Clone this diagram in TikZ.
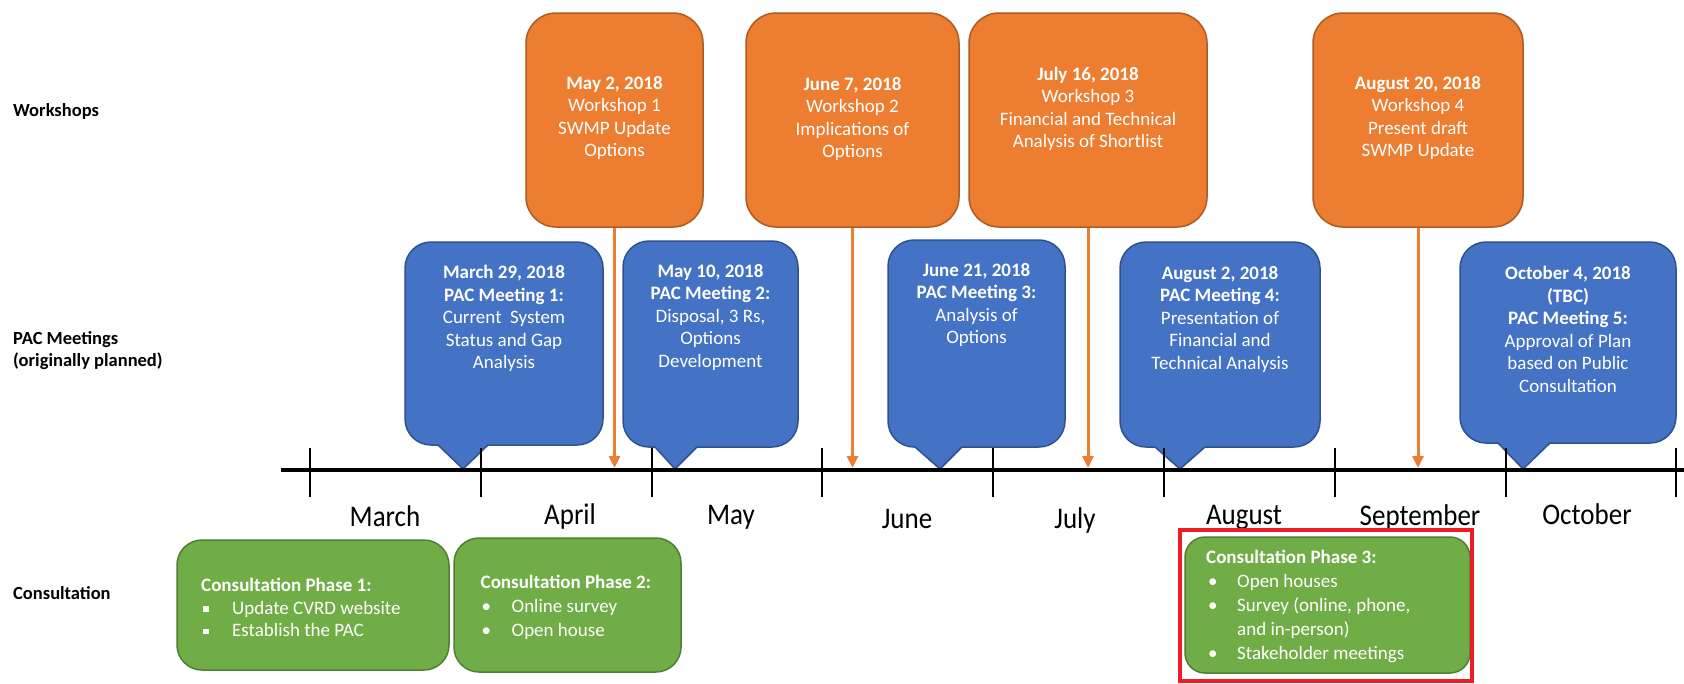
\documentclass[tikz,border=0pt]{standalone}
\usepackage{fontspec}
\setmainfont{Carlito}
\newfontfamily\monthfont[FakeStretch=0.9]{Carlito}
\usetikzlibrary{arrows.meta}
\definecolor{wsfill}{HTML}{ED7D31}
\definecolor{wsline}{HTML}{AE5A21}
\definecolor{pacfill}{HTML}{4472C4}
\definecolor{pacline}{HTML}{2F528F}
\definecolor{cfill}{HTML}{70AD47}
\definecolor{cline}{HTML}{507E32}
\definecolor{hlred}{HTML}{EE1C25}
\newcommand\boxfont{\fontsize{19}{22.5}\selectfont}
\newcommand\sqitem{\hspace*{2pt}\makebox[29pt][l]{\rule[2.5pt]{5.5pt}{5.5pt}}}
\newcommand\rditem{\hspace*{1pt}\makebox[30pt][l]{\textbullet}}
\newcommand\pacshape[7]{%
 \draw[pacbox] ({#1},{#3+26}) .. controls ({#1},{#3+11.65}) and ({#1+11.65},{#3}) .. ({#1+26},{#3})
  -- ({#2-26},{#3}) .. controls ({#2-11.65},{#3}) and ({#2},{#3+11.65}) .. ({#2},{#3+26})
  -- ({#2},{#4-26}) .. controls ({#2},{#4-11.65}) and ({#2-11.65},{#4}) .. ({#2-26},{#4})
  -- ({#6},{#4}) -- ({#7},469) -- ({#5},{#4})
  -- ({#1+26},{#4}) .. controls ({#1+11.65},{#4}) and ({#1},{#4-11.65}) .. ({#1},{#4-26}) -- cycle;}
\begin{document}
\begin{tikzpicture}[x=1pt,y=-1pt,
  wsbox/.style={draw=wsline, fill=wsfill, line width=1.5pt, rounded corners=30pt,
    inner sep=0pt, minimum height=214pt},
  pacbox/.style={draw=pacline, fill=pacfill, line width=1.5pt, line join=round},
  cbox/.style={draw=cline, fill=cfill, line width=1.5pt, rounded corners=25pt, inner sep=0pt},
  boxtext/.style={text=white, font=\boxfont, align=center, inner sep=0pt},
  ctext/.style={text=white, font=\boxfont, align=left, inner sep=0pt, anchor=north west},
  rowlabel/.style={font=\fontsize{18.5}{22}\selectfont\bfseries, inner sep=0pt, align=left},
  month/.style={font=\monthfont\fontsize{30}{32}\selectfont, inner sep=0pt, anchor=base},
  wsarrow/.style={draw=wsfill, line width=3pt, -{Triangle[length=12pt,width=11pt]}},
  tickline/.style={line width=1.3pt},
  timeline/.style={line width=4pt}]
\useasboundingbox (0,0) rectangle (1684,683);

% row labels
\node[rowlabel, anchor=base west] (lw) at (13,116) {Workshops};
\node[rowlabel, anchor=north west] (lp) at (13,331) {PAC Meetings\\(originally planned)};
\node[rowlabel, anchor=base west] (lc) at (13,599) {Consultation};

% workshop boxes
\node[wsbox, minimum width=177pt] (ws1) at (614.5,120) {};
\node[wsbox, minimum width=213pt] (ws2) at (852.5,120) {};
\node[wsbox, minimum width=238pt] (ws3) at (1088,120) {};
\node[wsbox, minimum width=210pt] (ws4) at (1418,120) {};
\node[boxtext] (ws1t) at (614.5,118) {\textbf{May 2, 2018}\\Workshop 1\\SWMP Update\\Options};
\node[boxtext] (ws2t) at (852.5,119) {\textbf{June 7, 2018}\\Workshop 2\\Implications of\\Options};
\node[boxtext] (ws3t) at (1088,109) {\textbf{July 16, 2018}\\Workshop 3\\Financial and Technical\\Analysis of Shortlist};
\node[boxtext] (ws4t) at (1418,118) {\textbf{August 20, 2018}\\Workshop 4\\Present draft\\SWMP Update};

% PAC callouts
\pacshape{405}{603}{242}{445}{438}{488}{463}
\pacshape{623}{798}{241}{447}{655}{697}{675}
\pacshape{888}{1065}{240}{447}{915}{962}{940}
\pacshape{1120}{1320}{242}{447}{1155}{1205}{1180}
\pacshape{1460}{1676}{242}{443}{1498}{1550}{1523}
\node[boxtext, anchor=north] (p1) at (504,265) {\textbf{March 29, 2018}\\\textbf{PAC Meeting 1:}\\Current\ \ System\\Status and Gap\\Analysis};
\node[boxtext, anchor=north] (p2) at (710.5,264) {\textbf{May 10, 2018}\\\textbf{PAC Meeting 2:}\\Disposal, 3 Rs,\\Options\\Development};
\node[boxtext, anchor=north] (p3) at (976.5,263) {\textbf{June 21, 2018}\\\textbf{PAC Meeting 3:}\\Analysis of\\Options};
\node[boxtext, anchor=north] (p4) at (1220,266) {\textbf{August 2, 2018}\\\textbf{PAC Meeting 4:}\\Presentation of\\Financial and\\Technical Analysis};
\node[boxtext, anchor=north] (p5) at (1568,266) {\textbf{October 4, 2018}\\\textbf{(TBC)}\\\textbf{PAC Meeting 5:}\\Approval of Plan\\based on Public\\Consultation};

% timeline
\coordinate (tl0) at (281,470);
\coordinate (tl1) at (1684,470);
\draw[timeline] (tl0) -- (tl1);
\foreach \x in {310,481,652,822,993,1164,1335,1506,1676}
  \draw[tickline] (\x,448) -- (\x,497);

% workshop arrows
\coordinate (a1) at (614.5,468);
\coordinate (a2) at (852.5,468);
\coordinate (a3) at (1088,468);
\coordinate (a4) at (1418,468);
\draw[wsarrow] (ws1.south) -- (a1);
\draw[wsarrow] (ws2.south) -- (a2);
\draw[wsarrow] (ws3.south) -- (a3);
\draw[wsarrow] (ws4.south) -- (a4);

% months
\node[month] (m3) at (385,526) {March};
\node[month] (m4) at (570,524) {April};
\node[month] (m5) at (731,524) {May};
\node[month] (m6) at (907,528) {June};
\node[month] (m7) at (1075,528) {July};
\node[month] (m8) at (1244,524) {August};
\node[month] (m9) at (1420,525) {September};
\node[month] (m10) at (1587,524) {October};

% consultation
\node[cbox, minimum width=272pt, minimum height=130pt] (cp1) at (313,605) {};
\node[cbox, minimum width=227pt, minimum height=134pt] (cp2) at (567.5,605) {};
\node[cbox, rounded corners=20pt, minimum width=285pt, minimum height=136pt] (cp3) at (1327.5,605) {};
\draw[hlred, line width=4pt] (1180,530) rectangle (1472,681);
\node[ctext] (cp1t) at (201,578) {\textbf{Consultation Phase 1:}\\\sqitem Update CVRD website\\\sqitem Establish the PAC};
\node[ctext, font=\fontsize{19}{24}\selectfont] (cp2t) at (480.5,575) {\textbf{Consultation Phase 2:}\\\rditem Online survey\\\rditem Open house};
\node[ctext, font=\fontsize{19}{24}\selectfont] (cp3t) at (1206,550) {\textbf{Consultation Phase 3:}\\\hspace*{2pt}\makebox[29pt][l]{\textbullet}Open houses\\\hspace*{2pt}\makebox[29pt][l]{\textbullet}Survey (online, phone,\\\hspace*{31pt}and in-person)\\\hspace*{2pt}\makebox[29pt][l]{\textbullet}Stakeholder meetings};
\end{tikzpicture}
\end{document}
